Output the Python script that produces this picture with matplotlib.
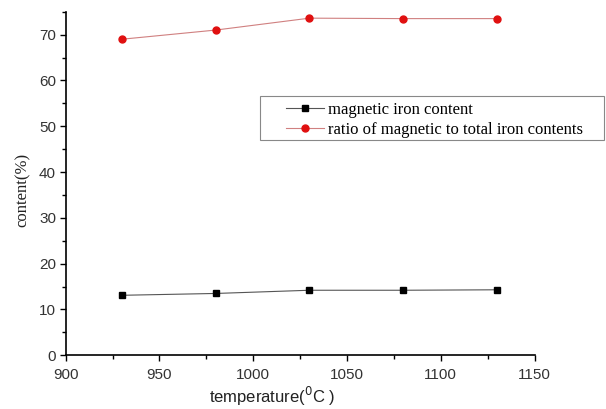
import matplotlib.pyplot as plt
from matplotlib.patches import Rectangle
from matplotlib.ticker import MultipleLocator

# data
temperature = [930, 980, 1030, 1080, 1130]
magnetic_iron = [13.1, 13.5, 14.2, 14.2, 14.3]
magnetic_ratio = [69.0, 71.0, 73.6, 73.5, 73.5]

x_ticks = [900, 950, 1000, 1050, 1100, 1150]
y_ticks = [0, 10, 20, 30, 40, 50, 60, 70]

W, H = 606, 409
fig = plt.figure(figsize=(W / 100, H / 100), dpi=100)
ax = fig.add_axes([0.1084, 0.1313, 0.7737, 0.8400])

ax.plot(temperature, magnetic_iron, color="#555555", lw=0.8,
        marker="s", ms=4.5, mfc="black", mec="black",
        label="magnetic iron content")
ax.plot(temperature, magnetic_ratio, color="#d08080", lw=0.8,
        marker="o", ms=5, mfc="#e01010", mec="#e01010",
        label="ratio of magnetic to total iron contents")

ax.set_xlim(900, 1150)
ax.set_ylim(0, 75)
ax.set_xticks(x_ticks)
ax.set_yticks(y_ticks)
ax.xaxis.set_minor_locator(MultipleLocator(25))
ax.yaxis.set_minor_locator(MultipleLocator(5))

for side in ("top", "right"):
    ax.spines[side].set_visible(False)
for side in ("left", "bottom"):
    ax.spines[side].set_linewidth(1.2)

ax.tick_params(which="major", direction="out", length=4, width=1.0,
               labelsize=11, labelcolor="#333333", pad=3)
ax.tick_params(axis="x", which="major", pad=5)
ax.tick_params(which="minor", direction="out", length=3, width=1.0)
for lab in ax.get_xticklabels() + ax.get_yticklabels():
    lab.set_family("Liberation Sans")

ax.set_xlabel("temperature($^{0}$C )", fontsize=12, family="Liberation Sans",
              color="#222222")
ax.xaxis.set_label_coords(0.44, -0.087)
ax.set_ylabel("content(%)", fontsize=12, family="Liberation Serif",
              color="#222222", va="center")
ax.yaxis.set_label_coords(-0.091, 0.4825)

# legend box drawn separately: the original has a wide left margin
fig.patches.append(Rectangle((260 / W, 1 - 140 / H), 344 / W, 44 / H,
                             transform=fig.transFigure, fill=False,
                             edgecolor="#888888", lw=0.8))
leg = ax.legend(loc="upper left", bbox_to_anchor=(286 / W, 1 - 102 / H),
                bbox_transform=fig.transFigure, frameon=False,
                prop={"family": "Liberation Serif", "size": 12},
                handlelength=2.3, borderpad=0, labelspacing=0.25,
                handletextpad=0.25, borderaxespad=0)

fig.savefig("out.png", dpi=100)
